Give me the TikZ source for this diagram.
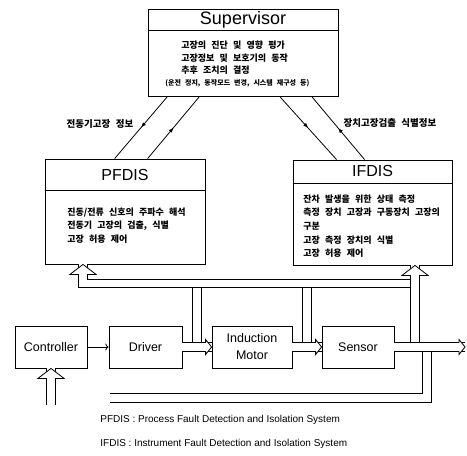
\documentclass[tikz,border=0pt]{standalone}
\usepackage{fontspec}
\setmainfont{Liberation Sans}
\newfontfamily\krfont{Noto Sans CJK KR}[WordSpace=2.5]
\usetikzlibrary{arrows.meta,decorations.markings}

\tikzset{
  pics/bighead/.style={code={
    \fill[white] (0,0) -- (-10,13) -- (-10,-13) -- cycle;
    \draw[line join=miter] (-10,4.15) -- (-10,13) -- (0,0) -- (-10,-13) -- (-10,-4.15);
  }},
  pics/smallhead/.style={code={
    \fill[white] (0,0) -- (-6,7.5) -- (-6,-7.5) -- cycle;
    \draw[line join=miter] (-6,4.15) -- (-6,7.5) -- (0,0) -- (-6,-7.5) -- (-6,-4.15);
  }}
}

\begin{document}
\begin{tikzpicture}[x=1pt, y=-1pt, line width=0.8pt,
    box/.style={draw, inner sep=0pt},
    boxtitle/.style={font=\fontsize{16}{18}\selectfont},
    blocklabel/.style={font=\fontsize{12.5}{17}\selectfont, align=center},
    kr/.style={font=\krfont\bfseries\fontsize{9}{11}\selectfont, anchor=west, inner sep=0pt},
    krsmall/.style={font=\krfont\bfseries\fontsize{7}{9}\selectfont, anchor=west, inner sep=0pt},
    krlabel/.style={font=\krfont\bfseries\fontsize{9.5}{12}\selectfont, inner sep=0pt},
    legendtext/.style={font=\fontsize{10}{12}\selectfont, anchor=west, inner sep=0pt},
    pipe/.style={double, double distance=7.5pt},
    flow/.style={postaction={decorate}, decoration={markings,
        mark=at position 0.5 with {\arrow{Latex[length=5pt,width=4pt]}}}}
]
\useasboundingbox (0,0) rectangle (467,456);

% supervisor
\node[box, minimum width=190pt, minimum height=87pt] (sup) at (243,52.5) {};
\node[boxtitle, font=\fontsize{18}{20}\selectfont] (suptitle) at (243,19.5) {Supervisor};
\draw (sup.west |- 0,30) -- (sup.east |- 0,30);
\node[kr] (sup1) at (181,45) {고장의 진단 및 영향 평가};
\node[kr] (sup2) at (181,58) {고장정보 및 보호기의 동작};
\node[kr] (sup3) at (181,70) {추후 조치의 결정};
\node[krsmall] (sup4) at (165,83) {(운전 정지, 동작모드 변경, 시스템 재구성 등)};

% PFDIS
\node[box, minimum width=160pt, minimum height=105pt] (pfdis) at (125,211.5) {};
\node[boxtitle] (pftitle) at (125,175) {PFDIS};
\draw (pfdis.west |- 0,190) -- (pfdis.east |- 0,190);
\node[kr] (pf1) at (67,213) {진동/전류 신호의 주파수 해석};
\node[kr] (pf2) at (67,226) {전동기 고장의 검출, 식별};
\node[kr] (pf3) at (67,239) {고장 허용 제어};

% IFDIS
\node[box, minimum width=159pt, minimum height=105pt] (ifdis) at (372.5,212.5) {};
\node[boxtitle] (iftitle) at (372.5,171) {IFDIS};
\draw (ifdis.west |- 0,183) -- (ifdis.east |- 0,183);
\node[kr] (if1) at (303,199) {잔차 발생을 위한 상태 측정};
\node[kr] (if2) at (303,212) {측정 장치 고장과 구동장치 고장의};
\node[kr] (if3) at (303,226) {구분};
\node[kr] (if4) at (303,240) {고장 측정 장치의 식별};
\node[kr] (if5) at (303,253) {고장 허용 제어};

% links to the supervisor
\node[krlabel] (pflab) at (100,124) {전동기고장 정보};
\node[krlabel] (iflab) at (390,123) {장치고장검출 식별정보};
\draw[flow] ([xshift=20pt]sup.south west) -- ([xshift=70pt]pfdis.north west);
\draw[flow] ([xshift=103pt]pfdis.north west) -- ([xshift=52pt]sup.south west);
\draw[flow] ([xshift=132pt]sup.south west) -- ([xshift=44pt]ifdis.north west);
\draw[flow] ([xshift=72pt]ifdis.north west) -- ([xshift=164pt]sup.south west);

% plant
\node[box, blocklabel, minimum width=72pt, minimum height=42pt] (ctrl) at (51,347) {Controller};
\node[box, blocklabel, minimum width=73pt, minimum height=42pt] (driver) at (145.5,347) {Driver};
\node[box, blocklabel, minimum width=80pt, minimum height=42pt] (motor) at (252,347) {Induction\\Motor};
\node[box, blocklabel, minimum width=72pt, minimum height=42pt] (sensor) at (358,347) {Sensor};

\coordinate (busL) at (83,283.5);
\coordinate (busR) at (415,283.5);
\coordinate (tap1) at (197,347);
\coordinate (tap2) at (307,347);
\coordinate (tap3) at (415,347);
\coordinate (tap4) at (427,347);
\coordinate (fbR) at (427,398);
\coordinate (fbL) at (110,398);
\coordinate (out) at (465,347);
\coordinate (ref) at (51,405);

\draw[pipe] (tap1 |- busL) -- (tap1);
\draw[pipe] (tap2 |- busL) -- (tap2);
\draw[pipe] (busR) -- (busL) -- (busL |- pfdis.south);
\pic[rotate=90] at (busL |- pfdis.south) {bighead};
\draw[pipe] (tap3) -- (tap3 |- ifdis.south);
\pic[rotate=90] at (tap3 |- ifdis.south) {bighead};
\draw[pipe] (tap4) -- (fbR) -- (fbL);
\draw[pipe] (driver) -- (motor);
\pic at (motor.west) {smallhead};
\draw[pipe] (motor) -- (sensor);
\pic at (sensor.west) {smallhead};
\draw[pipe] (sensor) -- (out);
\pic at (out) {smallhead};
\draw[pipe] (ref) -- (ctrl);
\pic[rotate=90] at (ctrl.south) {bighead};
\draw[->] (ctrl) -- (driver);

% legend
\node[legendtext] (leg1) at (100,420) {PFDIS : Process Fault Detection and Isolation System};
\node[legendtext] (leg2) at (100,444) {IFDIS : Instrument Fault Detection and Isolation System};
\end{tikzpicture}
\end{document}
